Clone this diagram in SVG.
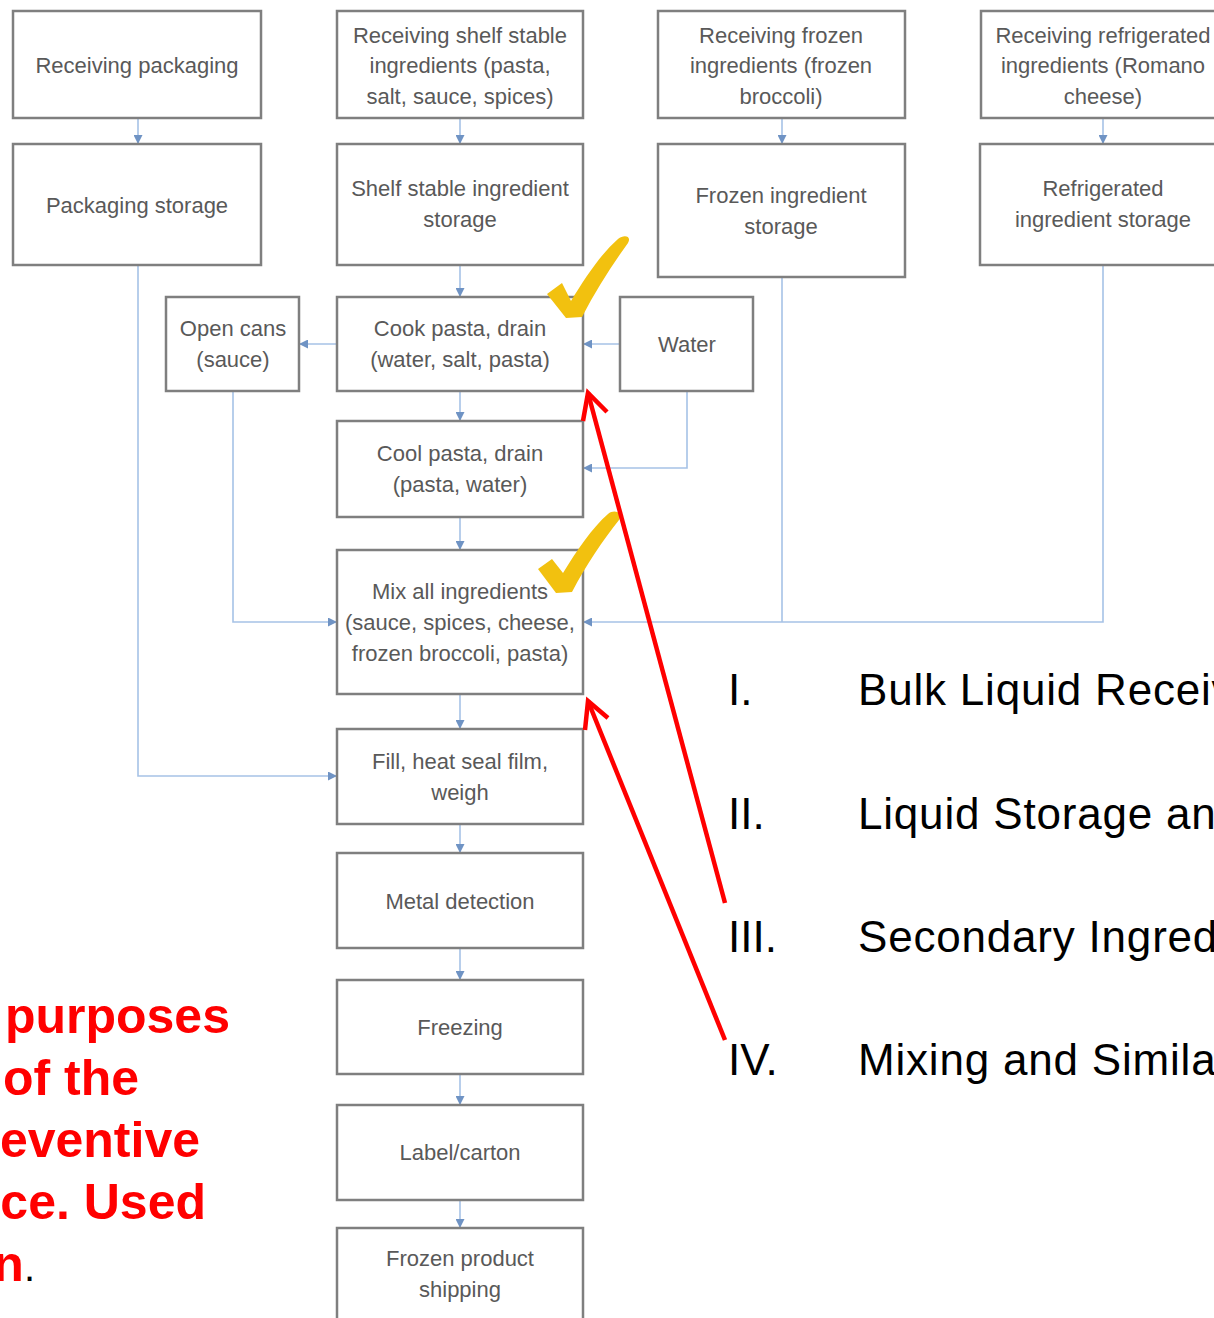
<svg xmlns="http://www.w3.org/2000/svg" width="1214" height="1318" viewBox="0 0 1214 1318">
<style>
.box{fill:#ffffff;stroke:#7f7f7f;stroke-width:2.5}
.bt{font-family:"Liberation Sans",Arial,sans-serif;font-size:22px;fill:#595959;text-anchor:middle}
.con{fill:none;stroke:#a6c2e6;stroke-width:1.6}
.red{font-family:"Liberation Sans",Arial,sans-serif;font-size:50px;font-weight:bold;fill:#ff0000;text-anchor:end}
.lst{font-family:"Liberation Sans",Arial,sans-serif;font-size:44px;fill:#000000}
.lstw{letter-spacing:0.8px}
.rarrow{fill:none;stroke:#ff0000;stroke-width:4.5;stroke-linecap:butt;stroke-linejoin:miter}
.check{fill:#f2c10f}
</style>
<defs>
<marker id="ah" viewBox="0 0 10 10" refX="10" refY="5" markerWidth="9" markerHeight="9" markerUnits="userSpaceOnUse" orient="auto">
<path d="M0,0 L10,5 L0,10 z" fill="#6f93c4"/>
</marker>
</defs>
<rect width="1214" height="1318" fill="#ffffff"/>
<g id="connectors">
<path class="con" d="M138 118 V144" marker-end="url(#ah)"/>
<path class="con" d="M460 118 V144" marker-end="url(#ah)"/>
<path class="con" d="M782 118 V144" marker-end="url(#ah)"/>
<path class="con" d="M1103 118 V144" marker-end="url(#ah)"/>
<path class="con" d="M460 265 V297" marker-end="url(#ah)"/>
<path class="con" d="M337 344 H299" marker-end="url(#ah)"/>
<path class="con" d="M620 344 H583" marker-end="url(#ah)"/>
<path class="con" d="M460 391 V421" marker-end="url(#ah)"/>
<path class="con" d="M687 391 V468 H583" marker-end="url(#ah)"/>
<path class="con" d="M460 517 V550" marker-end="url(#ah)"/>
<path class="con" d="M233 391 V622 H337" marker-end="url(#ah)"/>
<path class="con" d="M782 277 V622"/>
<path class="con" d="M1103 265 V622 H583" marker-end="url(#ah)"/>
<path class="con" d="M460 694 V729" marker-end="url(#ah)"/>
<path class="con" d="M138 265 V776 H337" marker-end="url(#ah)"/>
<path class="con" d="M460 824 V853" marker-end="url(#ah)"/>
<path class="con" d="M460 948 V980" marker-end="url(#ah)"/>
<path class="con" d="M460 1074 V1105" marker-end="url(#ah)"/>
<path class="con" d="M460 1200 V1228" marker-end="url(#ah)"/>
</g>
<g id="receiving-packaging"><rect class="box" x="13" y="11" width="248" height="107"/><text class="bt" x="137" y="73">Receiving packaging</text></g>
<g id="packaging-storage"><rect class="box" x="13" y="144" width="248" height="121"/><text class="bt" x="137" y="213">Packaging storage</text></g>
<g id="receiving-shelf-stable"><rect class="box" x="337" y="11" width="246" height="107"/><text class="bt" x="460" y="43">Receiving shelf stable</text><text class="bt" x="460" y="73">ingredients (pasta,</text><text class="bt" x="460" y="104">salt, sauce, spices)</text></g>
<g id="shelf-stable-storage"><rect class="box" x="337" y="144" width="246" height="121"/><text class="bt" x="460" y="196">Shelf stable ingredient</text><text class="bt" x="460" y="227">storage</text></g>
<g id="receiving-frozen"><rect class="box" x="658" y="11" width="247" height="107"/><text class="bt" x="781" y="43">Receiving frozen</text><text class="bt" x="781" y="73">ingredients (frozen</text><text class="bt" x="781" y="104">broccoli)</text></g>
<g id="frozen-storage"><rect class="box" x="658" y="144" width="247" height="133"/><text class="bt" x="781" y="203">Frozen ingredient</text><text class="bt" x="781" y="234">storage</text></g>
<g id="receiving-refrigerated"><rect class="box" x="981" y="11" width="250" height="107"/><text class="bt" x="1103" y="43">Receiving refrigerated</text><text class="bt" x="1103" y="73">ingredients (Romano</text><text class="bt" x="1103" y="104">cheese)</text></g>
<g id="refrigerated-storage"><rect class="box" x="980" y="144" width="250" height="121"/><text class="bt" x="1103" y="196">Refrigerated</text><text class="bt" x="1103" y="227">ingredient storage</text></g>
<g id="open-cans"><rect class="box" x="166" y="297" width="133" height="94"/><text class="bt" x="233" y="336">Open cans</text><text class="bt" x="233" y="367">(sauce)</text></g>
<g id="cook-pasta"><rect class="box" x="337" y="297" width="246" height="94"/><text class="bt" x="460" y="336">Cook pasta, drain</text><text class="bt" x="460" y="367">(water, salt, pasta)</text></g>
<g id="water"><rect class="box" x="620" y="297" width="133" height="94"/><text class="bt" x="687" y="352">Water</text></g>
<g id="cool-pasta"><rect class="box" x="337" y="421" width="246" height="96"/><text class="bt" x="460" y="461">Cool pasta, drain</text><text class="bt" x="460" y="492">(pasta, water)</text></g>
<g id="mix"><rect class="box" x="337" y="550" width="246" height="144"/><text class="bt" x="460" y="599">Mix all ingredients</text><text class="bt" x="460" y="630">(sauce, spices, cheese,</text><text class="bt" x="460" y="661">frozen broccoli, pasta)</text></g>
<g id="fill"><rect class="box" x="337" y="729" width="246" height="95"/><text class="bt" x="460" y="769">Fill, heat seal film,</text><text class="bt" x="460" y="800">weigh</text></g>
<g id="metal-detection"><rect class="box" x="337" y="853" width="246" height="95"/><text class="bt" x="460" y="909">Metal detection</text></g>
<g id="freezing"><rect class="box" x="337" y="980" width="246" height="94"/><text class="bt" x="460" y="1035">Freezing</text></g>
<g id="label-carton"><rect class="box" x="337" y="1105" width="246" height="95"/><text class="bt" x="460" y="1160">Label/carton</text></g>
<g id="shipping"><rect class="box" x="337" y="1228" width="246" height="100"/><text class="bt" x="460" y="1266">Frozen product</text><text class="bt" x="460" y="1297">shipping</text></g>
<g id="checkmarks">
<path class="check" d="M547 294 L562 283 L571 301 C585 278 600 255 618 239 C624 234 632 236 628 243 C612 265 596 290 582 317 L566 318 Z"/>
<path class="check" d="M538 569 L552 559 L563 573 C577 550 592 528 608 514 C614 509 623 512 619 520 C603 540 586 565 572 592 L556 593 Z"/>
</g>
<g id="red-arrows">
<path class="rarrow" d="M725 903 L588 393"/>
<path class="rarrow" d="M583 421 L588 393 L607 412"/>
<path class="rarrow" d="M725 1040 L588 701"/>
<path class="rarrow" d="M585 730 L588 701 L608 718"/>
</g>
<g id="list">
<text class="lst" x="728" y="705">I.</text><text class="lst lstw" x="858" y="705">Bulk Liquid Receiv</text>
<text class="lst" x="728" y="829">II.</text><text class="lst lstw" x="858" y="829">Liquid Storage an</text>
<text class="lst" x="728" y="952">III.</text><text class="lst lstw" x="858" y="952">Secondary Ingred</text>
<text class="lst" x="728" y="1075">IV.</text><text class="lst lstw" x="858" y="1075">Mixing and Simila</text>
</g>
<g id="red-note">
<text class="red" x="230" y="1033">purposes</text>
<text class="red" x="139" y="1095">of the</text>
<text class="red" x="200" y="1157">eventive</text>
<text class="red" x="206" y="1219">ce. Used</text>
<text class="red" x="35" y="1281">n<tspan style="fill:#000000;font-weight:normal;font-size:40px">.</tspan></text>
</g>
</svg>
